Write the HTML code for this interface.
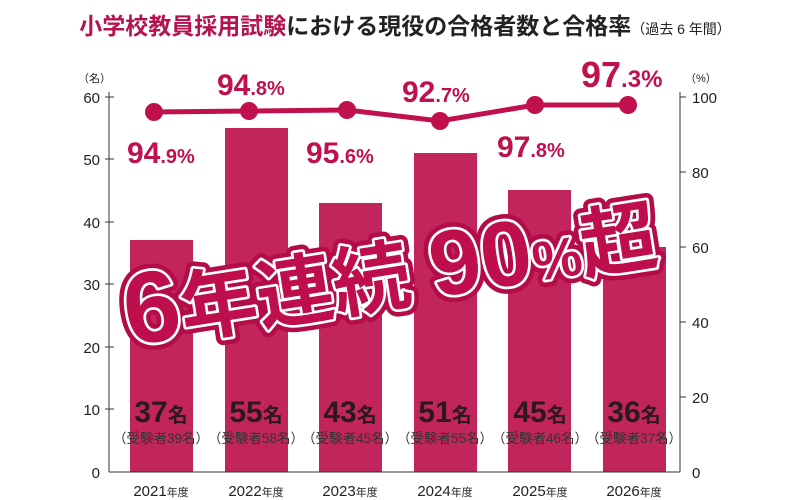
<!DOCTYPE html>
<html><head><meta charset="utf-8"><style>
html,body{margin:0;padding:0;background:#fff;}
svg{display:block;font-family:"Liberation Sans","Noto Sans CJK JP",sans-serif;}
</style></head><body>
<svg width="800" height="500" viewBox="0 0 800 500">
<text x="405" y="34" text-anchor="middle" font-size="23" font-weight="bold" fill="#222"><tspan fill="#b5134f">小学校教員採用試験</tspan>における現役の合格者数と合格率<tspan font-size="14" font-weight="normal">（過去 6 年間）</tspan></text>
<g fill="#c2255c">
<rect x="130" y="240" width="63" height="232"/>
<rect x="225" y="128" width="63" height="344"/>
<rect x="319" y="203" width="63" height="269"/>
<rect x="414" y="153" width="63" height="319"/>
<rect x="508" y="190" width="63" height="282"/>
<rect x="603" y="247" width="63" height="225"/>
</g>
<g stroke="#333" stroke-width="1" fill="none">
<line x1="109" y1="92" x2="109" y2="472"/>
<line x1="109" y1="472" x2="680" y2="472"/>
<line x1="680" y1="92" x2="680" y2="472"/>
<line x1="105" y1="97" x2="114" y2="97"/><line x1="105" y1="159" x2="114" y2="159"/><line x1="105" y1="222" x2="114" y2="222"/><line x1="105" y1="284" x2="114" y2="284"/><line x1="105" y1="347" x2="114" y2="347"/><line x1="105" y1="409" x2="114" y2="409"/>
<line x1="680" y1="97" x2="686" y2="97"/><line x1="680" y1="172" x2="686" y2="172"/><line x1="680" y1="247" x2="686" y2="247"/><line x1="680" y1="322" x2="686" y2="322"/><line x1="680" y1="397" x2="686" y2="397"/>
</g>
<g font-size="15" fill="#222" text-anchor="end">
<text x="100" y="103">60</text><text x="100" y="165">50</text><text x="100" y="228">40</text><text x="100" y="290">30</text><text x="100" y="353">20</text><text x="100" y="415">10</text><text x="100" y="478">0</text>
</g>
<g font-size="15" fill="#222">
<text x="692" y="103">100</text><text x="692" y="178">80</text><text x="692" y="253">60</text><text x="692" y="328">40</text><text x="692" y="403">20</text><text x="692" y="478">0</text>
</g>
<text x="78" y="82" font-size="11" fill="#222">（名）</text>
<text x="685" y="82" font-size="11" fill="#222">（%）</text>
<g font-size="15" fill="#222" text-anchor="middle">
<text x="161" y="496">2021<tspan font-size="11">年度</tspan></text>
<text x="256" y="496">2022<tspan font-size="11">年度</tspan></text>
<text x="350" y="496">2023<tspan font-size="11">年度</tspan></text>
<text x="445" y="496">2024<tspan font-size="11">年度</tspan></text>
<text x="540" y="496">2025<tspan font-size="11">年度</tspan></text>
<text x="634" y="496">2026<tspan font-size="11">年度</tspan></text>
</g>
<g font-size="30" font-weight="bold" fill="#2a1a1f" text-anchor="middle">
<text x="161" y="422">37<tspan font-size="20">名</tspan></text>
<text x="256" y="422">55<tspan font-size="20">名</tspan></text>
<text x="350" y="422">43<tspan font-size="20">名</tspan></text>
<text x="445" y="422">51<tspan font-size="20">名</tspan></text>
<text x="540" y="422">45<tspan font-size="20">名</tspan></text>
<text x="634" y="422">36<tspan font-size="20">名</tspan></text>
</g>
<g font-size="13.5" fill="#333" text-anchor="middle">
<text x="161" y="443">（受験者39名）</text>
<text x="256" y="443">（受験者58名）</text>
<text x="350" y="443">（受験者45名）</text>
<text x="445" y="443">（受験者55名）</text>
<text x="540" y="443">（受験者46名）</text>
<text x="634" y="443">（受験者37名）</text>
</g>
<polyline points="154,112 249,111 347,110 440,121 535,105 628,105" fill="none" stroke="#c0104e" stroke-width="5"/>
<g fill="#c0104e">
<circle cx="154" cy="112" r="9"/><circle cx="249" cy="111" r="9"/><circle cx="347" cy="110" r="9"/><circle cx="440" cy="121" r="9"/><circle cx="535" cy="105" r="9"/><circle cx="628" cy="105" r="9"/>
</g>
<g font-size="30" font-weight="bold" fill="#c0104e">
<text x="127" y="163">94<tspan font-size="20">.9%</tspan></text>
<text x="217" y="95">94<tspan font-size="20">.8%</tspan></text>
<text x="306" y="163">95<tspan font-size="20">.6%</tspan></text>
<text x="402" y="102">92<tspan font-size="20">.7%</tspan></text>
<text x="497" y="157">97<tspan font-size="20">.8%</tspan></text>
<text x="581" y="87" font-size="36">97<tspan font-size="24">.3%</tspan></text>
</g>
<g transform="translate(388 260) scale(0.92) rotate(-9) translate(-392 -262)" font-weight="bold" style="paint-order:stroke" stroke-linejoin="round">
<text x="392" y="310" text-anchor="middle" font-size="84" fill="#be0f4c" stroke="#b30c47" stroke-width="16"><tspan font-size="110">6</tspan>年連続 <tspan font-size="100">90</tspan><tspan font-size="60">%</tspan>超</text>
<text x="392" y="310" text-anchor="middle" font-size="84" fill="#be0f4c" stroke="#fff" stroke-width="6"><tspan font-size="110">6</tspan>年連続 <tspan font-size="100">90</tspan><tspan font-size="60">%</tspan>超</text>
<text x="392" y="310" text-anchor="middle" font-size="84" fill="#be0f4c"><tspan font-size="110">6</tspan>年連続 <tspan font-size="100">90</tspan><tspan font-size="60">%</tspan>超</text>
</g>
</svg>
</body></html>
